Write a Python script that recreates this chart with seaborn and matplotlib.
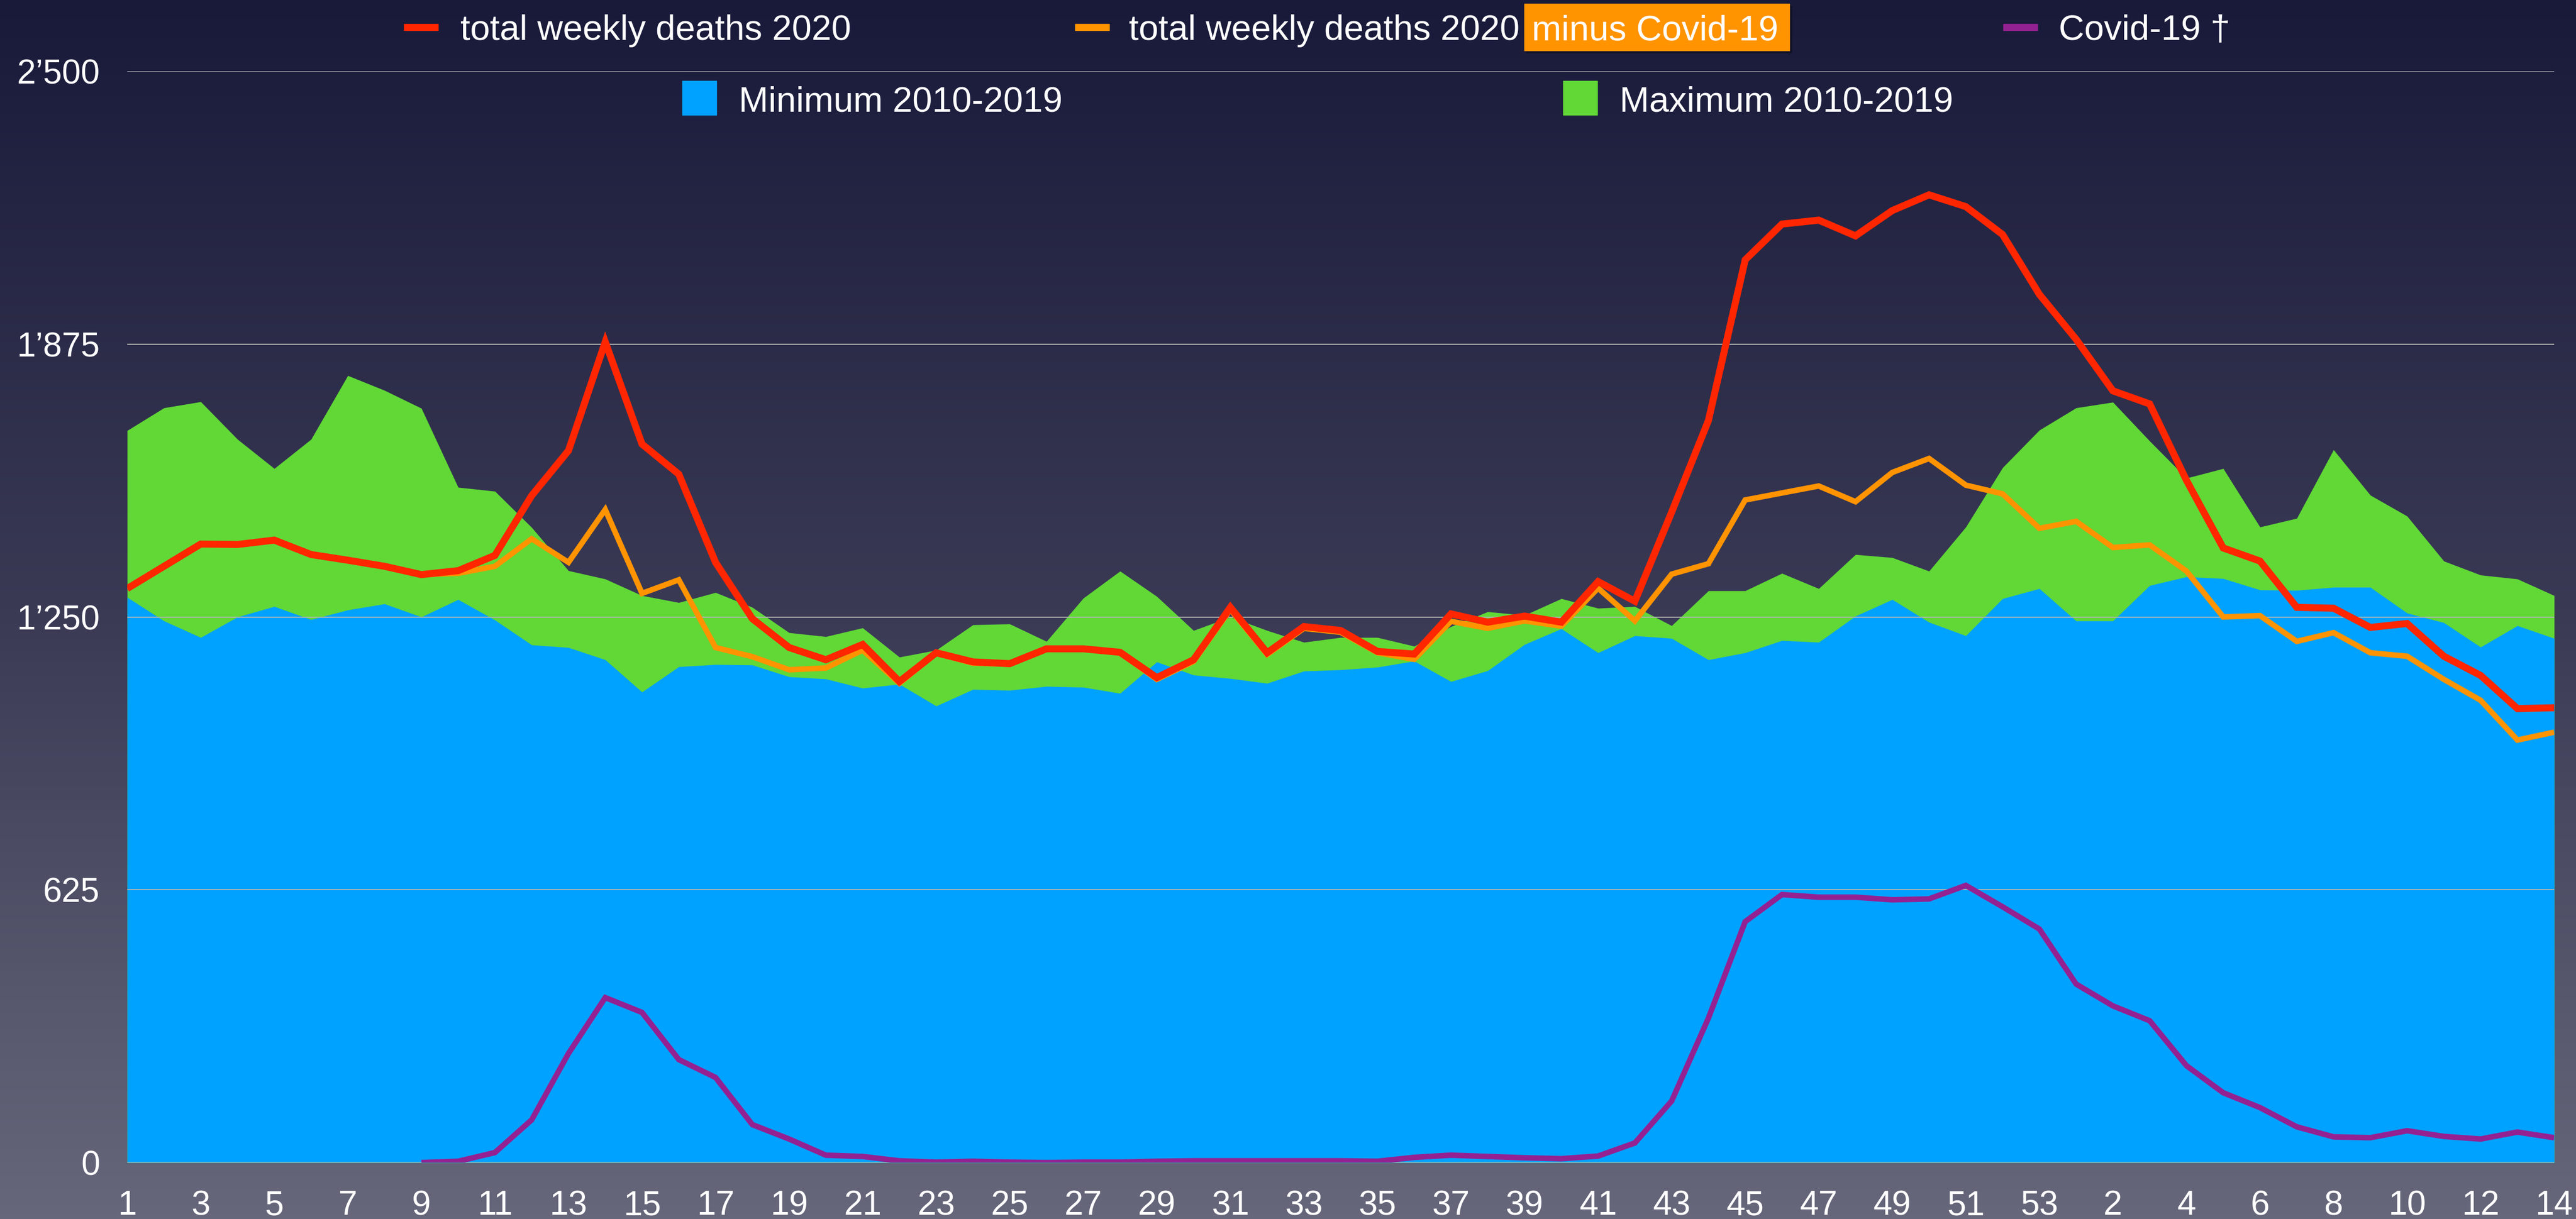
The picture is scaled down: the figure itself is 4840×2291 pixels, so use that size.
import numpy as np
import pandas as pd
import matplotlib.pyplot as plt
from matplotlib.patches import Rectangle
from matplotlib.colors import LinearSegmentedColormap
from matplotlib.ticker import FuncFormatter
import seaborn as sns

sns.set_theme(style='white')
plt.rcParams['font.family'] = ['Liberation Sans', 'DejaVu Sans']

W, H = 4840, 2291

# weeks 1-53 of 2020, then weeks 1-14 of 2021
week_labels = [str(w) for w in range(1, 54)] + [str(w) for w in range(1, 15)]

max_2010_2019 = [1677, 1729, 1743, 1657, 1590, 1657, 1803, 1769, 1728, 1547,
                 1538, 1455, 1356, 1337, 1299, 1283, 1306, 1272, 1214, 1205,
                 1225, 1158, 1174, 1232, 1234, 1194, 1293, 1355, 1297, 1219,
                 1250, 1219, 1192, 1203, 1203, 1183, 1228, 1262, 1254, 1292,
                 1270, 1274, 1230, 1310, 1310, 1350, 1315, 1393, 1386, 1355,
                 1456, 1592, 1678,
                 1729, 1742, 1653, 1568, 1590, 1456, 1476, 1633, 1529, 1481,
                 1378, 1346, 1337, 1299]

min_2010_2019 = [1295, 1241, 1203, 1250, 1274, 1244, 1266, 1280, 1250, 1290,
                 1243, 1186, 1180, 1152, 1078, 1136, 1141, 1140, 1113, 1108,
                 1087, 1096, 1046, 1084, 1082, 1091, 1089, 1075, 1147, 1117,
                 1109, 1098, 1126, 1129, 1135, 1149, 1102, 1127, 1187, 1223,
                 1168, 1207, 1201, 1152, 1168, 1196, 1192, 1252, 1290, 1238,
                 1207, 1292, 1315,
                 1241, 1241, 1322, 1342, 1338, 1312, 1311, 1318, 1318, 1259,
                 1237, 1181, 1230, 1201]

total_2020 = [1315, 1366, 1417, 1416, 1426, 1393, 1380, 1366, 1347, 1356,
              1391, 1528, 1631, 1880, 1646, 1577, 1375, 1246, 1180, 1152,
              1187, 1102, 1168, 1147, 1143, 1177, 1177, 1169, 1111, 1152,
              1272, 1168, 1228, 1219, 1171, 1165, 1257, 1238, 1252, 1238,
              1331, 1286, 1490, 1700, 2068, 2150, 2159, 2123, 2181, 2217,
              2190, 2126, 1989,
              1886, 1768, 1738, 1563, 1408, 1378, 1272, 1270, 1226, 1235,
              1160, 1116, 1040, 1042]

minus_covid = [1315, 1366, 1417, 1416, 1426, 1393, 1380, 1366, 1347, 1350,
               1366, 1429, 1375, 1496, 1304, 1335, 1180, 1159, 1129, 1133,
               1174, 1098, 1167, 1144, 1142, 1177, 1176, 1168, 1107, 1148,
               1267, 1164, 1224, 1215, 1168, 1153, 1240, 1224, 1241, 1229,
               1316, 1241, 1348, 1372, 1518, 1534, 1550, 1514, 1581, 1613,
               1552, 1532, 1453,
               1469, 1409, 1415, 1355, 1250, 1253, 1194, 1214, 1168, 1160,
               1107, 1059, 968, 986]

covid_deaths = [np.nan] * 8 + [0, 3, 23, 98, 250, 378, 344, 236, 195, 87,
                54, 17, 14, 4, 1, 3, 1, 0, 1, 1,
                3, 4, 4, 4, 4, 4, 3, 12, 17, 14,
                11, 9, 15, 45, 141, 331, 552, 614, 608, 608,
                602, 604, 635, 586, 535,
                409, 359, 325, 222, 160, 126, 82, 59, 57, 73,
                60, 54, 70, 57]

y_ticks = [0, 625, 1250, 1875, 2500]

df = pd.DataFrame({
    'week': np.arange(len(week_labels)),
    'max': max_2010_2019,
    'min': min_2010_2019,
    'total': total_2020,
    'minus': minus_covid,
    'covid': covid_deaths,
})

RED = '#ff2600'
ORANGE = '#ff9300'
PURPLE = '#942192'
BLUE = '#00a2ff'
GREEN = '#61d836'


def fx(px):
    return px / W


def fy(py):
    return 1 - py / H


fig = plt.figure(figsize=(W / 100, H / 100), dpi=100)

# background gradient
bg = fig.add_axes([0, 0, 1, 1], zorder=-10)
cmap = LinearSegmentedColormap.from_list('bg', ['#191a3a', '#3a3a55', '#67677b'])
bg.imshow(np.linspace(0, 1, 256).reshape(-1, 1), aspect='auto', cmap=cmap,
          extent=[0, 1, 0, 1])
bg.axis('off')

ax = fig.add_axes([fx(239), fy(2185), fx(4799) - fx(239), fy(134) - fy(2185)])
ax.patch.set_alpha(0)

ax.fill_between(df['week'], 0, df['max'], color=GREEN, lw=0, zorder=1)
ax.fill_between(df['week'], 0, df['min'], color=BLUE, lw=0, zorder=1.1)

line_kw = dict(solid_joinstyle='miter', solid_capstyle='butt')
sns.lineplot(data=df, x='week', y='minus', color=ORANGE, linewidth=7.5, ax=ax, zorder=3, **line_kw)
sns.lineplot(data=df, x='week', y='covid', color=PURPLE, linewidth=7.5, ax=ax, zorder=3, **line_kw)
sns.lineplot(data=df, x='week', y='total', color=RED, linewidth=9.5, ax=ax, zorder=4, **line_kw)

ax.set_xlim(0, len(week_labels) - 1)
ax.set_ylim(0, 2500)
ax.set_xlabel('')
ax.set_ylabel('')
ax.set_yticks(y_ticks)
ax.yaxis.set_major_formatter(FuncFormatter(lambda v, p: f'{int(v):,}'.replace(',', '\u2019')))
ax.set_xticks(df['week'][::2])
ax.set_xticklabels(week_labels[::2])
ax.tick_params(axis='both', length=0, labelsize=46, colors='white', pad=37)
ax.grid(axis='y', color='#b4b4b4', linewidth=1.5)
ax.grid(axis='x', visible=False)
ax.set_axisbelow('line')
for s in ax.spines.values():
    s.set_visible(False)
ax.axhline(0, color='#bdbdbd', linewidth=2.5, zorder=1.6)

# legend, row 1
base1 = fy(75)
legend_lines = [(759, 865, RED, 'total weekly deaths 2020'),
                (2020, 2121, ORANGE, 'total weekly deaths 2020'),
                (3764, 3868, PURPLE, 'Covid-19 \u2020')]
for mx, tx, c, label in legend_lines:
    fig.patches.append(Rectangle((fx(mx), fy(57)), 64 / W, 12 / H, color=c,
                                 transform=fig.transFigure, figure=fig))
    fig.text(fx(tx), base1, label, color='white', fontsize=48, va='baseline')

# highlighted part of the orange label
fig.patches.append(Rectangle((fx(2868), fy(99)), 498 / W, 88 / H, color='black', alpha=0.25,
                             transform=fig.transFigure, figure=fig))
fig.patches.append(Rectangle((fx(2864), fy(95)), 498 / W, 88 / H, color=ORANGE,
                             transform=fig.transFigure, figure=fig))
fig.text(fx(2878), base1, 'minus Covid-19', color='white', fontsize=48, va='baseline')

# legend, row 2
base2 = fy(210)
legend_areas = [(1282, 1388, BLUE, 'Minimum 2010-2019'),
                (2937, 3043, GREEN, 'Maximum 2010-2019')]
for mx, tx, c, label in legend_areas:
    fig.patches.append(Rectangle((fx(mx), fy(216)), 64 / W, 64 / H, color=c,
                                 transform=fig.transFigure, figure=fig))
    fig.text(fx(tx), base2, label, color='white', fontsize=48, va='baseline')

fig.savefig('out.png', dpi=100)
